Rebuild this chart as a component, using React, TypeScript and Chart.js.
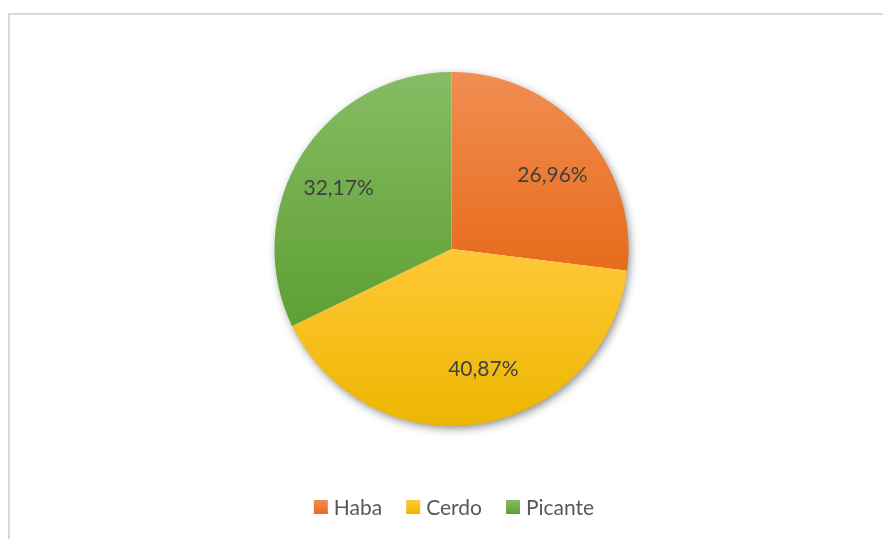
import React, { useEffect, useRef } from "react";
import { Chart, registerables } from "chart.js";

Chart.register(...registerables);

const categories = ["Haba", "Cerdo", "Picante"];
const values = [26.96, 40.87, 32.17];
const valueLabels = ["26,96%", "40,87%", "32,17%"];
const topColors = ["#F18E52", "#FFC837", "#86BC64"];
const bottomColors = ["#E76B1B", "#EDB600", "#5E9F32"];
const solidColors = ["#ED7D31", "#FFC000", "#70AD47"];

const FONT = "Lato, 'Open Sans', sans-serif";
const LABEL_ANGLE_SHIFT_DEG = [5.5, -5.4, -3.7];
const LABEL_RADIUS_RATIO = [0.705, 0.705, 0.725];

function sliceBounds(index: number, cy: number, r: number) {
  const total = values.reduce((a, b) => a + b, 0);
  let start = 0;
  for (let i = 0; i < index; i++) start += values[i];
  const a0 = -Math.PI / 2 + (start / total) * Math.PI * 2;
  const a1 = a0 + (values[index] / total) * Math.PI * 2;
  let minY = cy;
  let maxY = cy;
  const steps = 60;
  for (let s = 0; s <= steps; s++) {
    const a = a0 + ((a1 - a0) * s) / steps;
    const y = cy + Math.sin(a) * r;
    minY = Math.min(minY, y);
    maxY = Math.max(maxY, y);
  }
  return [minY, maxY];
}

export default function App() {
  const ref = useRef<HTMLCanvasElement | null>(null);

  useEffect(() => {
    if (!ref.current) return;

    const shadowPlugin = {
      id: "pieShadow",
      beforeDatasetsDraw(chart: any) {
        const meta = chart.getDatasetMeta(0);
        const arc = meta.data[0];
        if (!arc) return;
        const { x, y, outerRadius } = arc.getProps(["x", "y", "outerRadius"], true);
        const ctx = chart.ctx;
        ctx.save();
        ctx.shadowColor = "rgba(0,0,0,0.5)";
        ctx.shadowBlur = 10;
        ctx.shadowOffsetX = 2;
        ctx.shadowOffsetY = 3;
        ctx.beginPath();
        ctx.arc(x, y, outerRadius - 1, 0, Math.PI * 2);
        ctx.fillStyle = "#ffffff";
        ctx.fill();
        ctx.restore();
      },
    };

    const labelPlugin = {
      id: "sliceLabels",
      afterDatasetsDraw(chart: any) {
        const meta = chart.getDatasetMeta(0);
        const ctx = chart.ctx;
        ctx.save();
        ctx.font = `21px ${FONT}`;
        ctx.fillStyle = "#404040";
        ctx.textAlign = "center";
        ctx.textBaseline = "middle";
        meta.data.forEach((arc: any, i: number) => {
          const { x, y, startAngle, endAngle, outerRadius } = arc.getProps(
            ["x", "y", "startAngle", "endAngle", "outerRadius"],
            true
          );
          const mid = (startAngle + endAngle) / 2 + (LABEL_ANGLE_SHIFT_DEG[i] * Math.PI) / 180;
          const r = outerRadius * LABEL_RADIUS_RATIO[i];
          ctx.fillText(valueLabels[i], x + Math.cos(mid) * r, y + Math.sin(mid) * r);
        });
        ctx.restore();
      },
    };

    const legendPlugin = {
      id: "bottomLegend",
      afterDraw(chart: any) {
        const ctx = chart.ctx;
        ctx.save();
        ctx.font = `21px ${FONT}`;
        ctx.textBaseline = "middle";
        ctx.textAlign = "left";
        const box = 14;
        const gapBoxText = 6;
        const gapItems = 24;
        const widths = categories.map((c) => ctx.measureText(c).width);
        const total =
          widths.reduce((a, w) => a + box + gapBoxText + w, 0) + gapItems * (categories.length - 1);
        let x = 454 - total / 2;
        const cy = 507;
        categories.forEach((c, i) => {
          const g = ctx.createLinearGradient(0, cy - box / 2, 0, cy + box / 2);
          g.addColorStop(0, topColors[i]);
          g.addColorStop(1, bottomColors[i]);
          ctx.fillStyle = g;
          ctx.fillRect(x, cy - box / 2, box, box);
          x += box + gapBoxText;
          ctx.fillStyle = "#595959";
          ctx.fillText(c, x, cy + 1);
          x += widths[i] + gapItems;
        });
        ctx.restore();
      },
    };

    const chart = new Chart(ref.current, {
      type: "pie",
      data: {
        labels: categories,
        datasets: [
          {
            data: values,
            borderWidth: 0,
            backgroundColor: (c: any) => {
              const area = c.chart.chartArea;
              if (!area) return solidColors[c.dataIndex];
              const cy = (area.top + area.bottom) / 2;
              const r = Math.min(area.right - area.left, area.bottom - area.top) / 2;
              const [y0, y1] = sliceBounds(c.dataIndex, cy, r);
              const g = c.chart.ctx.createLinearGradient(0, y0, 0, y1);
              g.addColorStop(0, topColors[c.dataIndex]);
              g.addColorStop(1, bottomColors[c.dataIndex]);
              return g;
            },
          },
        ],
      },
      options: {
        responsive: false,
        animation: false,
        layout: { padding: { top: 72, left: 20, right: 0, bottom: 113 } },
        plugins: {
          tooltip: { enabled: false },
          legend: { display: false },
        },
      },
      plugins: [shadowPlugin, labelPlugin, legendPlugin],
    });
    return () => chart.destroy();
  }, []);

  return (
    <div>
      <div
        style={{
          position: "fixed",
          left: 8,
          top: 13,
          width: 900,
          height: 600,
          borderTop: "2px solid #d9d9d9",
          borderLeft: "2px solid #d9d9d9",
          boxSizing: "border-box",
        }}
      />
      <canvas
        ref={ref}
        width={883}
        height={539}
        style={{ position: "fixed", left: 0, top: 0, width: 883, height: 539 }}
      />
    </div>
  );
}
